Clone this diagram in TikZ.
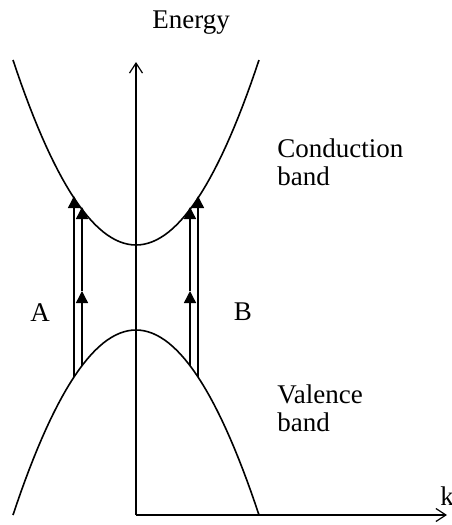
\documentclass[tikz,border=0pt]{standalone}
\usepackage{fontspec}
\setmainfont{Liberation Serif}
\usetikzlibrary{arrows.meta}
\tikzset{
  every picture/.style={x=0.5pt, y=-0.5pt},
  band/.style={line width=0.8pt},
  axis/.style={-{Straight Barb[length=5pt,width=6.5pt]}, line width=0.6pt},
  jump/.style={-{Triangle[length=6pt,width=6pt]}, line width=0.7pt},
  lbl/.style={font=\fontsize{13.5}{14}\selectfont, inner sep=0pt, anchor=base west},
  bandname/.style={lbl, align=left},
}

\begin{document}
\begin{tikzpicture}
  \useasboundingbox (0,0) rectangle (451,525);
  % axes
  \coordinate (O) at (136,515);
  \coordinate (Etop) at (136,62);
  \coordinate (kend) at (447,515);
  \draw[axis] (O) -- (Etop);
  \draw[axis] (O) -- (kend);
  \node[lbl] (energy) at (152,28) {Energy};
  \node[lbl] (k) at (440,505) {k};
  % bands
  \draw[band] plot[domain=-123:123, samples=61] ({136+\x},{245-185*(\x/123)^2});
  \draw[band] plot[domain=-123:123, samples=61] ({136+\x},{330+185*(\x/123)^2});
  \node[bandname] (cb) at (277,185) {Conduction\\band};
  \node[bandname] (vb) at (277,431) {Valence\\band};
  % transitions
  \coordinate (vA1) at (74,377);   \coordinate (cA1) at (74,196);
  \coordinate (vA2) at (82,366);   \coordinate (mA2) at (82,291);   \coordinate (cA2) at (82,207);
  \coordinate (vB1) at (198,377);  \coordinate (cB1) at (198,196);
  \coordinate (vB2) at (190,366);  \coordinate (mB2) at (190,291);  \coordinate (cB2) at (190,207);
  \draw[jump] (vA1) -- (cA1);
  \draw[jump] (vA2) -- (mA2);
  \draw[jump] (mA2) -- (cA2);
  \draw[jump] (vB1) -- (cB1);
  \draw[jump] (vB2) -- (mB2);
  \draw[jump] (mB2) -- (cB2);
  \node[lbl, anchor=base] (A) at (40,321) {A};
  \node[lbl, anchor=base] (B) at (243,320) {B};
\end{tikzpicture}
\end{document}
